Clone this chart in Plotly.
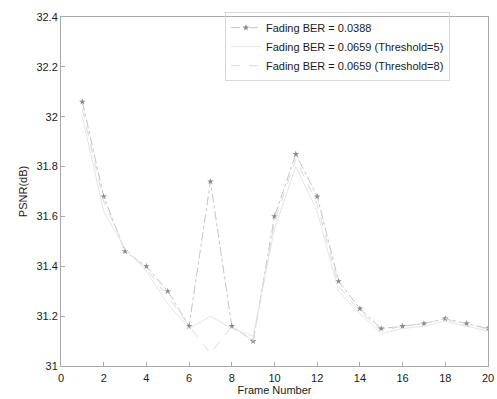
import plotly.graph_objects as go

frames = list(range(1, 21))
ber_0388 = [32.06, 31.68, 31.46, 31.40, 31.30, 31.16, 31.74, 31.16, 31.10, 31.60,
            31.85, 31.68, 31.34, 31.23, 31.15, 31.16, 31.17, 31.19, 31.17, 31.15]
ber_0659_t5 = [32.00, 31.62, 31.47, 31.38, 31.25, 31.15, 31.20, 31.15, 31.12, 31.55,
               31.80, 31.62, 31.30, 31.21, 31.13, 31.15, 31.16, 31.18, 31.16, 31.14]
ber_0659_t8 = [32.03, 31.66, 31.47, 31.39, 31.28, 31.16, 31.05, 31.16, 31.10, 31.58,
               31.83, 31.65, 31.32, 31.22, 31.14, 31.16, 31.17, 31.19, 31.16, 31.15]
names = ["Fading BER = 0.0388",
         "Fading BER = 0.0659 (Threshold=5)",
         "Fading BER = 0.0659 (Threshold=8)"]
x_ticks = [0, 2, 4, 6, 8, 10, 12, 14, 16, 18, 20]
y_ticks = [31, 31.2, 31.4, 31.6, 31.8, 32, 32.2, 32.4]

fig = go.Figure()
fig.add_trace(go.Scatter(x=frames, y=ber_0388, name=names[0], mode="lines+markers",
                         line=dict(color="#c4c4c4", width=1, dash="dashdot"),
                         marker=dict(symbol="star", size=5, color="#8a8a8a")))
fig.add_trace(go.Scatter(x=frames, y=ber_0659_t5, name=names[1], mode="lines",
                         line=dict(color="#e6e6e6", width=1)))
fig.add_trace(go.Scatter(x=frames, y=ber_0659_t8, name=names[2], mode="lines",
                         line=dict(color="#dcdcdc", width=1, dash="dash")))

font = "Liberation Sans, Arial, sans-serif"
fig.update_layout(
    width=497, height=399,
    margin=dict(l=61, r=9, t=17, b=33),
    paper_bgcolor="white", plot_bgcolor="white",
    font=dict(family=font, size=11, color="#1a1a1a"),
    showlegend=True,
    legend=dict(x=0.384, y=1.014, xanchor="left", yanchor="top",
                bgcolor="rgba(255,255,255,0)", bordercolor="#d8d8d8", borderwidth=1,
                font=dict(size=11, color="#1a1a1a"), tracegroupgap=0),
    xaxis=dict(range=[0, 20], tickvals=x_ticks, ticks="inside", ticklen=4,
               tickcolor="#aaa", showline=True, linecolor="#aaa", mirror=True,
               showgrid=False, zeroline=False, ticklabelstandoff=2, automargin=False,
               title=dict(text="Frame Number", standoff=3, font=dict(size=11))),
    yaxis=dict(range=[31, 32.4], tickvals=y_ticks, ticks="inside", ticklen=4,
               tickcolor="#aaa", showline=True, linecolor="#aaa", mirror=True,
               showgrid=False, zeroline=False, automargin=False,
               title=dict(text="PSNR(dB)", standoff=6, font=dict(size=11))),
)
fig.write_html("out.html")
